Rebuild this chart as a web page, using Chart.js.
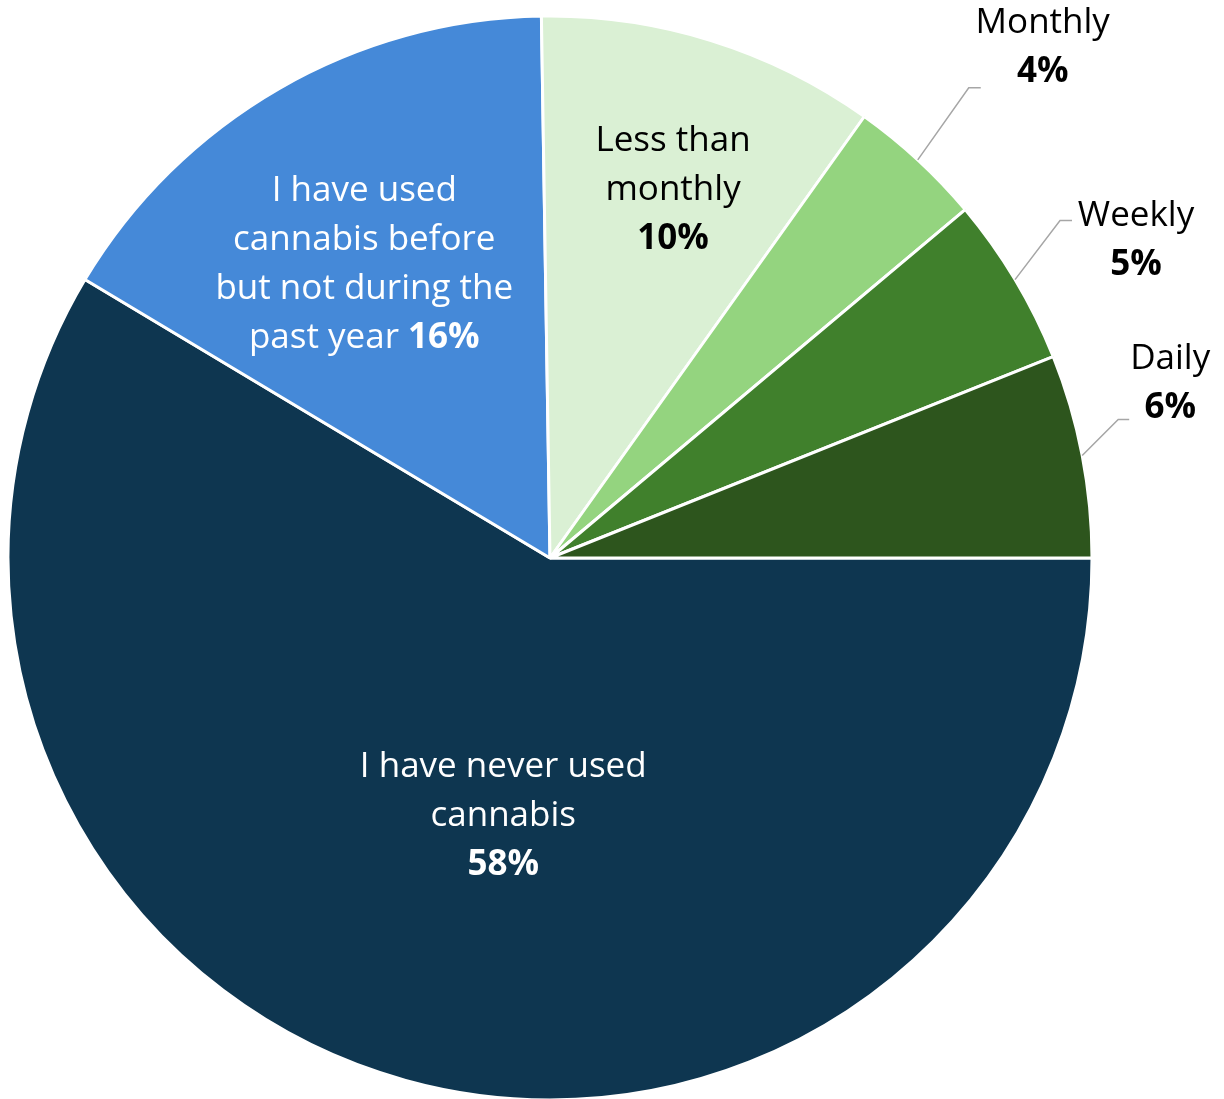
<!DOCTYPE html>
<html>
<head>
<meta charset="utf-8">
<title>Cannabis use frequency</title>
<script src="https://cdn.jsdelivr.net/npm/chart.js@4/dist/chart.umd.min.js"></script>
<style>
  html, body { margin: 0; padding: 0; background: #fff; }
  canvas { display: block; }
</style>
</head>
<body>
<canvas id="pie" width="1224" height="1099"></canvas>
<script>
// slices run clockwise from 3 o'clock
const categories = [
  'I have never used cannabis',
  'I have used cannabis before but not during the past year',
  'Less than monthly',
  'Monthly',
  'Weekly',
  'Daily'
];
const shares = [58, 16, 10, 4, 5, 6];
const sliceColors = ['#0e3650', '#4589d8', '#daf0d4', '#94d47f', '#40802c', '#2d551d'];

// label text, wrapped the way it is drawn
const labelLines = [
  ['I have never used', 'cannabis'],
  ['I have used', 'cannabis before', 'but not during the', 'past year'],
  ['Less than', 'monthly'],
  ['Monthly'],
  ['Weekly'],
  ['Daily']
];

const FONT = '"Open Sans", Lato, sans-serif';
const FONT_SIZE = 35;
const LINE_H = 49;

// inside labels sit at a fraction of the radius; outside ones hang off a leader line
// (elbow offset from the rim, short horizontal tail, then the text block)
const labelPlacement = [
  { inside: true, r: 0.49, dx: 24, dy: 2, color: '#ffffff' },
  { inside: true, r: 0.63, dx: -15, dy: 2, color: '#ffffff', pctInline: true },
  { inside: true, r: 0.715, dx: 8, dy: 2, color: '#000000' },
  { inside: false, ex: 51, ey: -72, tail: 12, tx: 62, ty: -65, color: '#000000' },
  { inside: false, ex: 45, ey: -59, tail: 12, tx: 64, ty: -5, color: '#000000' },
  { inside: false, ex: 36, ey: -36, tail: 11, tx: 41, ty: -60, color: '#000000' }
];

function drawLine(ctx, parts, cx, y) {
  // parts: [{text, bold}], drawn centred on cx
  let total = 0;
  parts.forEach(p => {
    ctx.font = (p.bold ? 'bold ' : '') + FONT_SIZE + 'px ' + FONT;
    p.w = ctx.measureText(p.text).width;
    total += p.w;
  });
  let x = cx - total / 2;
  parts.forEach(p => {
    ctx.font = (p.bold ? 'bold ' : '') + FONT_SIZE + 'px ' + FONT;
    ctx.textAlign = 'left';
    ctx.fillText(p.text, x, y);
    x += p.w;
  });
}

const sliceLabels = {
  id: 'sliceLabels',
  afterDatasetsDraw(chart) {
    const ctx = chart.ctx;
    const arcs = chart.getDatasetMeta(0).data;
    ctx.save();
    ctx.textBaseline = 'middle';
    arcs.forEach((arc, i) => {
      const { x, y, startAngle, endAngle, outerRadius } = arc.getProps(['x', 'y', 'startAngle', 'endAngle', 'outerRadius'], true);
      const mid = (startAngle + endAngle) / 2;
      const place = labelPlacement[i];
      const pct = shares[i] + '%';
      const rows = labelLines[i].map(t => [{ text: t, bold: false }]);
      if (place.pctInline) {
        rows[rows.length - 1].push({ text: ' ' + pct, bold: true });
      } else {
        rows.push([{ text: pct, bold: true }]);
      }
      ctx.fillStyle = place.color;

      if (place.inside) {
        const r = outerRadius * place.r;
        const cx = x + Math.cos(mid) * r + place.dx;
        const cy = y + Math.sin(mid) * r + place.dy;
        const n = rows.length;
        rows.forEach((row, k) => drawLine(ctx, row, cx, cy + (k - (n - 1) / 2) * LINE_H));
      } else {
        const sx = x + Math.cos(mid) * outerRadius;
        const sy = y + Math.sin(mid) * outerRadius;
        const ex = sx + place.ex;
        const ey = sy + place.ey;
        ctx.strokeStyle = '#a6a6a6';
        ctx.lineWidth = 1.5;
        ctx.beginPath();
        ctx.moveTo(sx, sy);
        ctx.lineTo(ex, ey);
        ctx.lineTo(ex + place.tail, ey);
        ctx.stroke();
        const cx = ex + place.tail + place.tx;
        const cy = ey + place.ty;
        rows.forEach((row, k) => drawLine(ctx, row, cx, cy + k * LINE_H));
      }
    });
    ctx.restore();
  }
};

new Chart(document.getElementById('pie'), {
  type: 'pie',
  data: {
    labels: categories,
    datasets: [{
      data: shares,
      backgroundColor: sliceColors,
      borderColor: '#ffffff',
      borderWidth: 3,
      hoverOffset: 0,
      radius: 542
    }]
  },
  options: {
    responsive: false,
    animation: false,
    rotation: 90,
    layout: { padding: { left: 9, top: 17, right: 133, bottom: 0 } },
    plugins: {
      legend: { display: false },
      tooltip: { enabled: false }
    }
  },
  plugins: [sliceLabels]
});
</script>
</body>
</html>
